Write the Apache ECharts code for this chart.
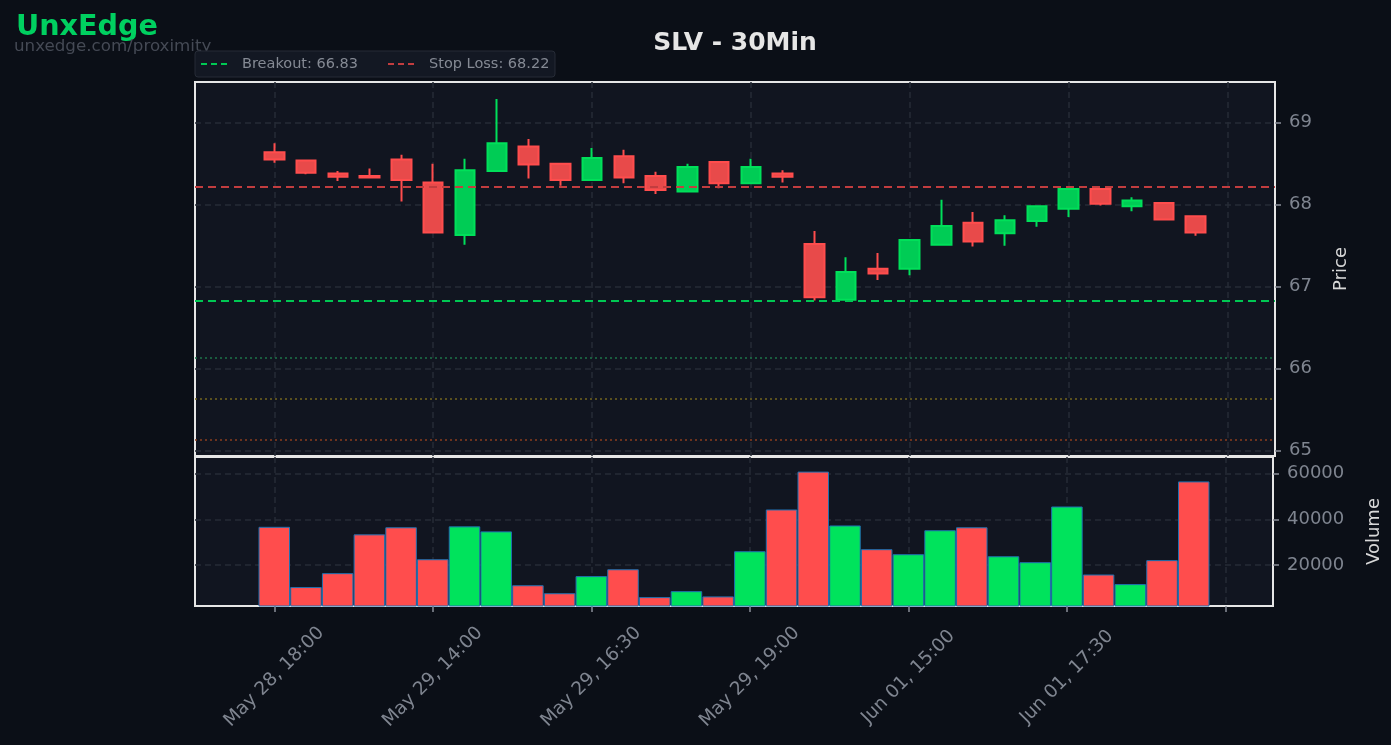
<!DOCTYPE html>
<html>
<head>
<meta charset="utf-8">
<title>SLV - 30Min</title>
<script src="https://cdn.jsdelivr.net/npm/echarts@6/dist/echarts.min.js"></script>
<style>
  html, body { margin: 0; padding: 0; background: #0b0f17; }
  #chart { width: 1391px; height: 745px; }
</style>
</head>
<body>
<div id="chart"></div>
<script>
// bar times (30 min)
const times = [
  'May 28, 18:00', 'May 28, 18:30', 'May 28, 19:00', 'May 28, 19:30', 'May 29, 13:30',
  'May 29, 14:00', 'May 29, 14:30', 'May 29, 15:00', 'May 29, 15:30', 'May 29, 16:00',
  'May 29, 16:30', 'May 29, 17:00', 'May 29, 17:30', 'May 29, 18:00', 'May 29, 18:30',
  'May 29, 19:00', 'May 29, 19:30', 'Jun 01, 13:30', 'Jun 01, 14:00', 'Jun 01, 14:30',
  'Jun 01, 15:00', 'Jun 01, 15:30', 'Jun 01, 16:00', 'Jun 01, 16:30', 'Jun 01, 17:00',
  'Jun 01, 17:30', 'Jun 01, 18:00', 'Jun 01, 18:30', 'Jun 01, 19:00', 'Jun 01, 19:30'
];
const opens  = [68.64, 68.54, 68.38, 68.35, 68.55, 68.27, 67.63, 68.41, 68.71, 68.50,
                68.30, 68.59, 68.35, 68.16, 68.52, 68.26, 68.38, 67.52, 66.84, 67.22,
                67.22, 67.51, 67.78, 67.65, 67.80, 67.95, 68.19, 67.98, 68.02, 67.86];
const closes = [68.55, 68.39, 68.34, 68.33, 68.30, 67.66, 68.42, 68.75, 68.49, 68.30,
                68.57, 68.33, 68.18, 68.46, 68.26, 68.46, 68.34, 66.87, 67.18, 67.16,
                67.57, 67.74, 67.55, 67.81, 67.98, 68.19, 68.01, 68.05, 67.82, 67.66];
const lows   = [68.51, 68.37, 68.29, 68.33, 68.04, 67.65, 67.51, 68.41, 68.32, 68.23,
                68.30, 68.26, 68.13, 68.16, 68.20, 68.26, 68.27, 66.83, 66.83, 67.08,
                67.14, 67.51, 67.49, 67.50, 67.73, 67.85, 67.99, 67.92, 67.82, 67.62];
const highs  = [68.75, 68.54, 68.41, 68.44, 68.61, 68.50, 68.56, 69.29, 68.80, 68.51,
                68.69, 68.67, 68.40, 68.50, 68.52, 68.56, 68.42, 67.68, 67.36, 67.41,
                67.57, 68.06, 67.91, 67.87, 67.98, 68.21, 68.19, 68.09, 68.02, 67.86];
const volumes = [36700, 10300, 16400, 33400, 36500, 22500, 36900, 34700, 11100, 7600,
                 15100, 18100, 5900, 8500, 6200, 26000, 44300, 60900, 37300, 26900,
                 24700, 35200, 36500, 23800, 21200, 45600, 15800, 11600, 22100, 56600];

const breakout = 66.83;
const stopLoss = 68.22;
const extraLevels = [66.13, 65.63, 65.13];
const extraColors = ['#1c7448', '#74661e', '#8a3e1e'];

const xTicks = [0, 5, 10, 15, 20, 25, 30];
const priceTicks = [65, 66, 67, 68, 69];
const volumeTicks = [20000, 40000, 60000];

const UP = '#00cc55', UP_EDGE = '#00e05a';
const DOWN = '#e84a4a', DOWN_EDGE = '#ff4d4d';
const GRID_LINE = '#262b36';
const LABEL = '#7f8590';
const FONT = 'DejaVu Sans';

const candleData = times.map((t, i) => [i, opens[i], closes[i], lows[i], highs[i]]);
const volumeData = times.map((t, i) => ({
  value: [i, volumes[i]],
  itemStyle: { color: closes[i] >= opens[i] ? '#00e35c' : '#ff4d4d' }
}));

const levelLines = [
  { yAxis: breakout, lineStyle: { color: '#00c853', type: [8, 5], width: 2 } },
  { yAxis: stopLoss, lineStyle: { color: '#c23d3f', type: [8, 5], width: 2 } }
].concat(extraLevels.map((v, i) => ({
  yAxis: v, lineStyle: { color: extraColors[i], type: [2, 3], width: 1.5 }
})));

const chart = echarts.init(document.getElementById('chart'));

const tickStyle = { color: '#8a8f99', width: 1.5 };
const splitStyle = { color: GRID_LINE, type: [6, 4], width: 1.5 };

const option = {
  backgroundColor: '#0b0f17',
  animation: false,
  grid: [
    { left: 195, right: 116, top: 82, height: 374, show: true, backgroundColor: '#111520', borderColor: '#e6e6e6', borderWidth: 2 },
    { left: 195, right: 116, top: 457, height: 149, show: true, backgroundColor: '#111520', borderColor: '#e6e6e6', borderWidth: 2 }
  ],
  xAxis: [
    {
      type: 'value', gridIndex: 0, min: -2.5, max: 31.5,
      axisLine: { show: false, onZero: false },
      axisTick: { show: false, customValues: xTicks },
      axisLabel: { show: false, customValues: xTicks },
      splitLine: { show: true, lineStyle: splitStyle }
    },
    {
      type: 'value', gridIndex: 1, min: -2.5, max: 31.5,
      axisLine: { show: false, onZero: false },
      axisTick: { show: true, customValues: xTicks, length: 6, lineStyle: tickStyle },
      axisLabel: {
        customValues: xTicks,
        formatter: v => times[v] || '',
        rotate: 45, align: 'center', verticalAlign: 'middle', margin: 71,
        color: LABEL, fontFamily: FONT, fontSize: 18.5
      },
      splitLine: { show: true, lineStyle: splitStyle }
    }
  ],
  yAxis: [
    {
      type: 'value', gridIndex: 0, position: 'right', min: 64.935, max: 69.496,
      name: 'Price', nameLocation: 'middle', nameRotate: 90, nameGap: 57,
      nameTextStyle: { color: '#d8d8d8', fontFamily: FONT, fontSize: 18 },
      axisLine: { show: false, onZero: false },
      axisTick: { show: true, customValues: priceTicks, length: 6, lineStyle: tickStyle },
      axisLabel: { customValues: priceTicks, color: LABEL, fontFamily: FONT, fontSize: 18, margin: 14 },
      splitLine: { show: true, lineStyle: splitStyle }
    },
    {
      type: 'value', gridIndex: 1, position: 'right', min: 2000, max: 67300,
      name: 'Volume', nameLocation: 'middle', nameRotate: 90, nameGap: 92,
      nameTextStyle: { color: '#d8d8d8', fontFamily: FONT, fontSize: 18 },
      axisLine: { show: false, onZero: false },
      axisTick: { show: true, customValues: volumeTicks, length: 6, lineStyle: tickStyle },
      axisLabel: { customValues: volumeTicks, formatter: v => String(v), color: LABEL, fontFamily: FONT, fontSize: 18, margin: 14 },
      splitLine: { show: true, lineStyle: splitStyle }
    }
  ],
  series: [
    {
      name: 'SLV',
      type: 'candlestick',
      xAxisIndex: 0, yAxisIndex: 0,
      barWidth: 20,
      data: candleData,
      itemStyle: {
        color: UP, color0: DOWN,
        borderColor: UP_EDGE, borderColor0: DOWN_EDGE,
        borderWidth: 2
      },
      markLine: {
        silent: true,
        symbol: ['none', 'none'],
        label: { show: false },
        data: levelLines
      }
    },
    {
      name: 'Volume',
      type: 'bar',
      xAxisIndex: 1, yAxisIndex: 1,
      barWidth: 31.5,
      data: volumeData,
      itemStyle: { borderColor: '#2070b0', borderWidth: 1 }
    }
  ],
  graphic: [
    { type: 'text', x: 16, y: 28, style: { text: 'UnxEdge', fill: '#00d060', font: 'bold 28.6px "DejaVu Sans"', textVerticalAlign: 'middle' } },
    { type: 'text', x: 14, y: 47, style: { text: 'unxedge.com/proximity', fill: '#454a55', font: '16.7px "DejaVu Sans"', textVerticalAlign: 'middle' } },
    { type: 'text', x: 735, y: 43, style: { text: 'SLV - 30Min', fill: '#e6e6e6', font: 'bold 25px "DejaVu Sans"', textAlign: 'center', textVerticalAlign: 'middle' } },
    { type: 'rect', shape: { x: 195, y: 51, width: 360, height: 26, r: 3 }, style: { fill: '#131823', stroke: '#262b36', lineWidth: 1 } },
    { type: 'line', shape: { x1: 201, y1: 64, x2: 229, y2: 64 }, style: { stroke: '#00c853', lineWidth: 2, lineDash: [6, 4] } },
    { type: 'text', x: 242, y: 64, style: { text: 'Breakout: ' + breakout.toFixed(2), fill: '#858a94', font: '14.5px "DejaVu Sans"', textVerticalAlign: 'middle' } },
    { type: 'line', shape: { x1: 388, y1: 64, x2: 418, y2: 64 }, style: { stroke: '#c23d3f', lineWidth: 2, lineDash: [6, 4] } },
    { type: 'text', x: 429, y: 64, style: { text: 'Stop Loss: ' + stopLoss.toFixed(2), fill: '#858a94', font: '14.5px "DejaVu Sans"', textVerticalAlign: 'middle' } }
  ]
};

chart.setOption(option);
window.addEventListener('resize', () => chart.resize());
</script>
</body>
</html>
